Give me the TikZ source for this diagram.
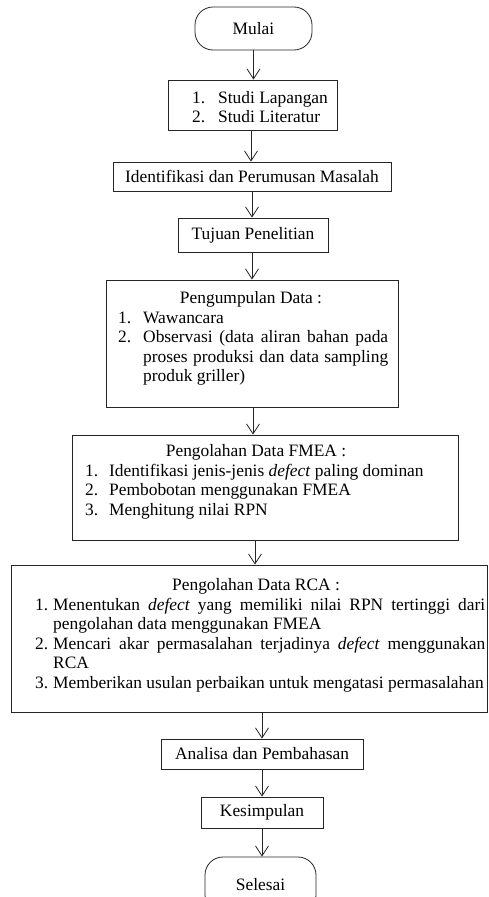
\documentclass[tikz,border=0pt]{standalone}
\usepackage{fontspec}
\setmainfont{Liberation Serif}
\usetikzlibrary{arrows.meta}
\newlength{\lind}
\newcommand{\li}[2]{\par\hangindent=\lind\hangafter=1\noindent\makebox[\lind][l]{#1}#2}
\newcommand{\lstbox}[3]{\parbox[t]{#2}{\setlength{\lind}{#1}\hfuzz=20pt\hbadness=10000 #3}}
\begin{document}
\begin{tikzpicture}[x=1pt,y=-1pt,
  font=\fontsize{17.4}{19.6}\selectfont,
  box/.style={draw=black!85, line width=0.8pt, rectangle, inner sep=0pt},
  term/.style={box, rounded corners=18pt},
  arr/.style={draw=black!85, line width=0.8pt, -{Straight Barb[length=10pt,width=13pt]}},
  txt/.style={inner sep=0pt, anchor=base},
  lst/.style={inner sep=0pt, anchor=base west}]
\useasboundingbox (0,0) rectangle (488,897);
\begin{scope}
\clip (0,0) rectangle (488,897);
% boxes
\node[term, minimum width=117pt, minimum height=43pt] (mulai) at (253.5,28.5) {Mulai};
\node[box, minimum width=169pt, minimum height=50pt] (studi) at (252.5,105) {};
\node[box, minimum width=278pt, minimum height=29pt] (ident) at (252,176.5) {Identifikasi dan Perumusan Masalah};
\node[box, minimum width=150pt, minimum height=34pt] (tujuan) at (253,235) {Tujuan Penelitian};
\node[box, minimum width=292pt, minimum height=127pt] (kumpul) at (252,343.5) {};
\node[box, minimum width=386pt, minimum height=105pt] (fmea) at (265,487.5) {};
\node[box, minimum width=476pt, minimum height=147pt] (rca) at (249,638.5) {};
\node[box, minimum width=202pt, minimum height=30pt] (analisa) at (262,754) {Analisa dan Pembahasan};
\node[box, minimum width=122pt, minimum height=31pt] (kesim) at (262,812.5) {Kesimpulan};
\node[term, minimum width=111pt, minimum height=56pt] (selesai) at (260.5,885) {Selesai};
% texts
\node[lst] (studitxt) at (192,103) {\lstbox{26pt}{140pt}{\li{1.}{Studi Lapangan}\li{2.}{Studi Literatur}}};
\node[txt] (kumpult) at (251,303) {Pengumpulan Data :};
\node[lst] (kumpultxt) at (118,323) {\lstbox{25pt}{270pt}{\li{1.}{Wawancara}\li{2.}{Observasi (data aliran bahan pada\linebreak proses produksi dan data sampling\linebreak produk griller)}}};
\node[txt] (fmeat) at (256,456) {Pengolahan Data FMEA :};
\node[lst] (fmeatxt) at (85,476) {\lstbox{24pt}{370pt}{\li{1.}{Identifikasi jenis-jenis \emph{defect} paling dominan}\li{2.}{Pembobotan menggunakan FMEA}\li{3.}{Menghitung nilai RPN}}};
\node[txt] (rcat) at (256,590) {Pengolahan Data RCA :};
\node[lst] (rcatxt) at (35,610) {\lstbox{18pt}{450pt}{\li{1.}{Menentukan \emph{defect} yang memiliki nilai RPN tertinggi dari\linebreak pengolahan data menggunakan FMEA}\li{2.}{Mencari akar permasalahan terjadinya \emph{defect} menggunakan\linebreak RCA}\li{3.}{\mbox{Memberikan usulan perbaikan untuk mengatasi permasalahan}}}};
% arrows
\draw[arr] (mulai.south) -- (mulai.south |- studi.north);
\draw[arr] ([xshift=-1.5pt]studi.south) -- ([xshift=-1.5pt]studi.south |- ident.north);
\draw[arr] (ident.south) -- (ident.south |- tujuan.north);
\draw[arr] ([xshift=-1pt]tujuan.south) -- ([xshift=-1pt]tujuan.south |- kumpul.north);
\draw[arr] ([xshift=1pt]kumpul.south) -- ([xshift=1pt]kumpul.south |- fmea.north);
\draw[arr] ([xshift=-10pt]fmea.south) -- ([xshift=-10pt]fmea.south |- rca.north);
\draw[arr] (analisa.north |- rca.south) -- (analisa.north);
\draw[arr] (analisa.south) -- (analisa.south |- kesim.north);
\draw[arr] (kesim.south) -- (kesim.south |- selesai.north);
\end{scope}
\end{tikzpicture}
\end{document}
